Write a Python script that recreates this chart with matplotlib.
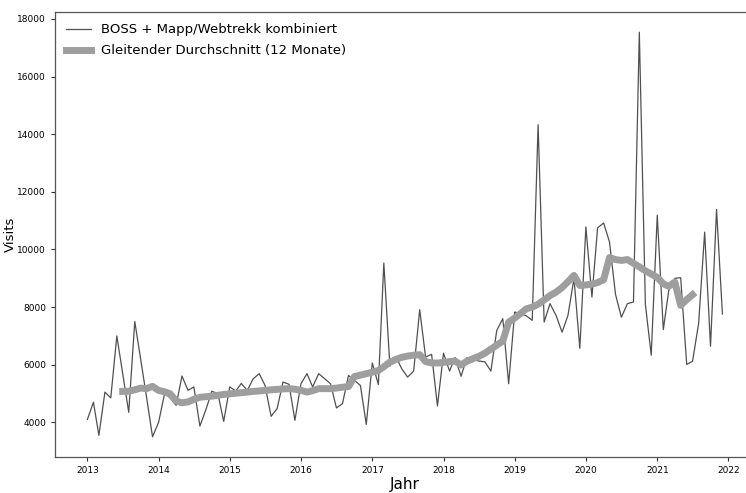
#
#   Monthly visits (BOSS + Mapp/Webtrekk) with 12-month moving average
#

import numpy as np
import pandas as pd
import matplotlib
matplotlib.use("Agg")
import matplotlib.pyplot as plt
import matplotlib.dates as mdates

# monthly visits, Jan 2013 - Dec 2021
visits_2013 = [4100, 4700, 3550, 5050, 4850, 7000, 5700, 4350, 7500, 6200, 4850, 3500]
visits_2014 = [4000, 5000, 4850, 4590, 5610, 5110, 5230, 3870, 4450, 5080, 5000, 4035]
visits_2015 = [5230, 5090, 5350, 5110, 5510, 5690, 5280, 4210, 4480, 5400, 5320, 4070]
visits_2016 = [5340, 5690, 5230, 5690, 5520, 5340, 4500, 4650, 5630, 5460, 5280, 3930]
visits_2017 = [6060, 5310, 9530, 5950, 6290, 5860, 5570, 5780, 7910, 6270, 6360, 4570]
visits_2018 = [6400, 5780, 6250, 5600, 6250, 6180, 6130, 6100, 5780, 7190, 7600, 5340]
visits_2019 = [7830, 7770, 7700, 7540, 14330, 7480, 8120, 7710, 7130, 7710, 9000, 6570]
visits_2020 = [10780, 8350, 10750, 10920, 10260, 8440, 7650, 8120, 8180, 17540, 8100, 6330]
visits_2021 = [11190, 7220, 8580, 9000, 9020, 6010, 6120, 7430, 10600, 6640, 11390, 7760]

# 12-month moving average, Jul 2013 - Jul 2021
moving_avg = [
    5075, 5080, 5130, 5190, 5170, 5250,                                    # 2013
    5110, 5060, 4995, 4740, 4680, 4710, 4800, 4870, 4890, 4910, 4940, 4970,  # 2014
    4990, 5010, 5030, 5050, 5075, 5090, 5110, 5130, 5145, 5160, 5170, 5150,  # 2015
    5110, 5050, 5100, 5170, 5170, 5170, 5190, 5220, 5240, 5590, 5640, 5690,  # 2016
    5740, 5800, 5930, 6090, 6180, 6260, 6300, 6330, 6350, 6110, 6060, 6060,  # 2017
    6080, 6110, 6130, 5990, 6120, 6210, 6290, 6400, 6540, 6680, 6820, 7480,  # 2018
    7620, 7780, 7940, 8000, 8100, 8250, 8400, 8520, 8680, 8880, 9100, 8750,  # 2019
    8770, 8800, 8850, 8950, 9720, 9650, 9620, 9650, 9520, 9400, 9260, 9150,  # 2020
    9030, 8810, 8720, 8870, 8060, 8260, 8430,                              # 2021
]

year_ticks = list(range(2013, 2023))

visits = (visits_2013 + visits_2014 + visits_2015 + visits_2016 + visits_2017
          + visits_2018 + visits_2019 + visits_2020 + visits_2021)
months = pd.date_range("2013-01-01", periods=len(visits), freq="MS")
ma_months = pd.date_range("2013-07-01", periods=len(moving_avg), freq="MS")

fig = plt.figure(figsize=(7.46, 4.93), dpi=100)
# axes run past the right edge (the reference is cropped there)
ax = fig.add_axes([55 / 746, 36 / 493, 699 / 746, 445 / 493])

ax.plot(months, visits, color="#505050", linewidth=0.9,
        label="BOSS + Mapp/Webtrekk kombiniert")
ax.plot(ma_months, moving_avg, color="#9e9e9e", linewidth=5,
        label="Gleitender Durchschnitt (12 Monate)")

ax.set_xlim(pd.Timestamp("2012-07-19"), pd.Timestamp("2022-05-12"))
ax.set_ylim(2798, 18242)
ax.set_xticks([pd.Timestamp(f"{y}-01-01") for y in year_ticks])
ax.xaxis.set_major_formatter(mdates.DateFormatter("%Y"))
ax.set_yticks(range(4000, 18001, 2000))
ax.tick_params(labelsize=6.5, length=3, color="#333333")

ax.spines["right"].set_visible(False)
for side in ["left", "bottom", "top"]:
    ax.spines[side].set_color("#555555")
    ax.spines[side].set_linewidth(0.9)

ax.set_xlabel("Jahr", fontsize=11)
ax.set_ylabel("Visits", fontsize=9.5)
ax.xaxis.set_label_coords(0.5, -0.045)
ax.yaxis.set_label_coords(-0.055, 0.5)

ax.legend(loc="upper left", frameon=False, fontsize=9.5,
          handlelength=1.9, handletextpad=0.7, borderaxespad=0.45,
          labelspacing=0.6)

plt.savefig("out.png", dpi=100)
plt.close()
